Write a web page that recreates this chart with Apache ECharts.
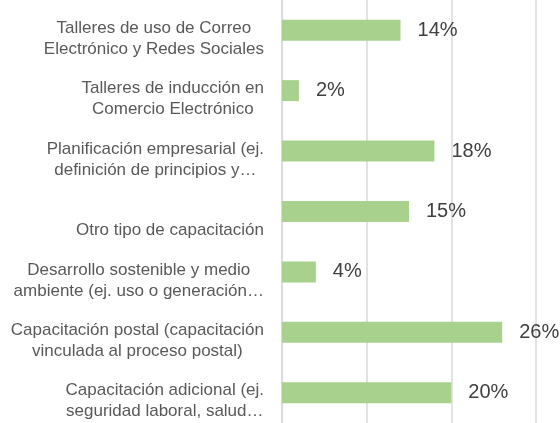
<!DOCTYPE html>
<html>
<head>
<meta charset="utf-8">
<script src="https://cdn.jsdelivr.net/npm/echarts@6/dist/echarts.min.js"></script>
<style>
  html, body { margin: 0; padding: 0; background: #fff; }
  #main { width: 560px; height: 423px; }
</style>
</head>
<body>
<div id="main"></div>
<script>
// categorias (texto tal como aparece, ya cortado en 2 lineas)
var categories = [
  "Talleres de uso de Correo\nElectrónico y Redes Sociales",
  "Talleres de inducción en\nComercio Electrónico",
  "Planificación empresarial (ej.\ndefinición de principios y…",
  "Otro tipo de capacitación",
  "Desarrollo sostenible y medio\nambiente (ej. uso o generación…",
  "Capacitación postal (capacitación\nvinculada al proceso postal)",
  "Capacitación adicional (ej.\nseguridad laboral, salud…"
];
// porcentajes
var values = [14, 2, 18, 15, 4, 26, 20];
var xTicks = [0, 10, 20, 30];

var chart = echarts.init(document.getElementById("main"));

var option = {
  animation: false,
  grid: {
    left: 282,
    right: 24,
    top: -2,
    bottom: -6
  },
  xAxis: {
    type: "value",
    min: xTicks[0],
    max: xTicks[xTicks.length - 1],
    interval: xTicks[1] - xTicks[0],
    axisLabel: { show: false },
    axisLine: { show: false },
    axisTick: { show: false },
    splitLine: { lineStyle: { color: "#d9d9d9", width: 1.5 } }
  },
  yAxis: {
    type: "category",
    inverse: true,
    data: categories,
    axisLine: { show: true, lineStyle: { color: "#d9d9d9", width: 1.5 } },
    axisTick: { show: false },
    axisLabel: {
      margin: 18,
      align: "right",
      padding: [17, 0, 0, 0],
      formatter: function (v) {
        var lines = v.split("\n");
        // una sola linea: se baja como en el original
        if (lines.length === 1) lines.unshift("");
        return lines.map(function (l) { return "{c|" + l + "}"; }).join("\n");
      },
      rich: {
        c: {
          align: "center",
          fontFamily: "Liberation Sans",
          fontSize: 17,
          lineHeight: 21,
          color: "#595959"
        }
      }
    }
  },
  series: [
    {
      type: "bar",
      data: values,
      barWidth: 21,
      itemStyle: { color: "#a9d18e" },
      label: {
        show: true,
        position: "right",
        distance: 17,
        formatter: "{c}%",
        fontFamily: "Liberation Sans",
        fontSize: 20,
        color: "#404040"
      }
    }
  ]
};

chart.setOption(option);
</script>
</body>
</html>
